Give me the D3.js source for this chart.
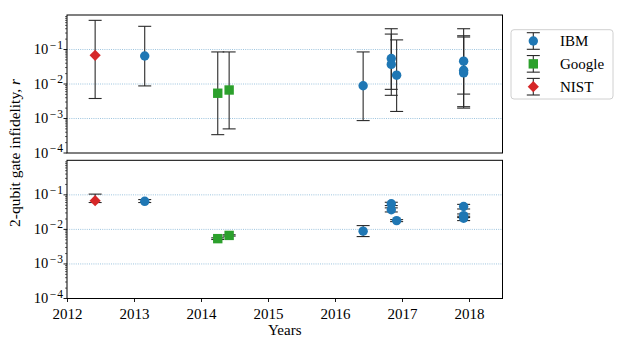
<!DOCTYPE html>
<html>
<head>
<meta charset="utf-8">
<script src="https://cdn.jsdelivr.net/npm/d3@7"></script>
<style>
  body { margin: 0; background: #fff; }
</style>
</head>
<body>
<div id="chart"></div>
<script>
const year_ticks = [2012, 2013, 2014, 2015, 2016, 2017, 2018];
const r_ticks = [1e-4, 1e-3, 1e-2, 1e-1];
const r_tick_exps = ['4', '3', '2', '1'];
const grid_values = [1e-3, 1e-2, 1e-1];

// IBM
const ibm_years = [2013.16, 2016.42, 2016.84, 2016.84, 2016.92, 2017.92, 2017.92, 2017.92];
const ibm_r = [0.065, 0.0089, 0.055, 0.037, 0.018, 0.046, 0.025, 0.021];
const ibm_upper = [0.47, 0.085, 0.40, 0.28, 0.19, 0.40, 0.25, 0.23];
const ibm_lower = [0.0088, 0.00087, 0.0070, 0.0047, 0.0016, 0.0051, 0.0022, 0.0020];
const ibm_err_up = [0.008, 0.004, 0.006, 0.005, 0.0012, 0.007, 0.003, 0.003];
const ibm_err_down = [0.005, 0.0027, 0.006, 0.005, 0.0012, 0.007, 0.003, 0.003];

// Google
const google_years = [2014.25, 2014.42];
const google_r = [0.0054, 0.0067];
const google_upper = [0.085, 0.085];
const google_lower = [0.00034, 0.0005];
const google_err_up = [0.0003, 0.0003];
const google_err_down = [0.0003, 0.0003];

// NIST
const nist_years = [2012.42];
const nist_r = [0.068];
const nist_upper = [0.70];
const nist_lower = [0.0038];
const nist_err_up = [0.037];
const nist_err_down = [0.008];

const series = [
    { name: 'IBM', color: '#1f77b4', shape: 'circle', years: ibm_years, r: ibm_r,
      upper: ibm_upper, lower: ibm_lower, err_up: ibm_err_up, err_down: ibm_err_down },
    { name: 'Google', color: '#2ca02c', shape: 'square', years: google_years, r: google_r,
      upper: google_upper, lower: google_lower, err_up: google_err_up, err_down: google_err_down },
    { name: 'NIST', color: '#d62728', shape: 'diamond', years: nist_years, r: nist_r,
      upper: nist_upper, lower: nist_lower, err_up: nist_err_up, err_down: nist_err_down }
];

const width = 623, height = 350;
const left = 67, right = 502.5;
const panels = [
    { top: 15, bottom: 153, mode: 'range' },
    { top: 160.3, bottom: 298.5, mode: 'stat' }
];
const cap_half = 6.5;
const bar_color = '#2a2a2a';
const serif = "'Liberation Serif', 'DejaVu Serif', serif";

const svg = d3.select('#chart')
    .append('svg')
    .attr('width', width)
    .attr('height', height)
    .style('font-family', serif);

const x = d3.scaleLinear().domain([2012, 2018.5]).range([left, right]);

function add_text(g) {
    return g.append('text')
        .style('font-family', serif)
        .attr('fill', '#000');
}

function marker_path(shape) {
    if (shape === 'circle') return d3.symbol(d3.symbolCircle, Math.PI * 4.7 * 4.7)();
    if (shape === 'square') return d3.symbol(d3.symbolSquare, 9.4 * 9.4)();
    const h = 5.6;
    return `M0,${-h}L${h},0L0,${h}L${-h},0Z`;
}

function draw_marker(g, shape, color, cx, cy) {
    g.append('path')
        .attr('d', marker_path(shape))
        .attr('transform', `translate(${cx},${cy})`)
        .attr('fill', color);
}

function draw_errorbar(g, cx, y_hi, y_lo) {
    g.append('line')
        .attr('x1', cx).attr('x2', cx)
        .attr('y1', y_hi).attr('y2', y_lo)
        .attr('stroke', bar_color).attr('stroke-width', 1.1);
    [y_hi, y_lo].forEach(yy => {
        g.append('line')
            .attr('x1', cx - cap_half).attr('x2', cx + cap_half)
            .attr('y1', yy).attr('y2', yy)
            .attr('stroke', bar_color).attr('stroke-width', 1.1);
    });
}

function draw_panel(panel, show_x_labels) {
    const y = d3.scaleLog().domain([1e-4, 1]).range([panel.bottom, panel.top]);
    const g = svg.append('g');

    // dotted grid
    g.selectAll('line.grid')
        .data(grid_values)
        .enter().append('line')
        .attr('x1', left).attr('x2', right)
        .attr('y1', d => y(d)).attr('y2', d => y(d))
        .attr('stroke', '#1f77b4')
        .attr('stroke-opacity', 0.55)
        .attr('stroke-width', 0.8)
        .attr('stroke-dasharray', '1,1.2');

    // error bars and markers
    series.forEach(s => {
        s.years.forEach((yr, i) => {
            let hi, lo;
            if (panel.mode === 'range') {
                hi = s.upper[i];
                lo = s.lower[i];
            } else {
                hi = s.r[i] + s.err_up[i];
                lo = s.r[i] - s.err_down[i];
            }
            draw_errorbar(g, x(yr), y(hi), y(lo));
        });
        s.years.forEach((yr, i) => {
            draw_marker(g, s.shape, s.color, x(yr), y(s.r[i]));
        });
    });

    // minor ticks on y axis
    const minor = [];
    for (let e = -4; e < 0; e++) {
        for (let k = 2; k <= 9; k++) minor.push(k * Math.pow(10, e));
    }
    g.selectAll('line.minor')
        .data(minor)
        .enter().append('line')
        .attr('x1', left - 2).attr('x2', left)
        .attr('y1', d => y(d)).attr('y2', d => y(d))
        .attr('stroke', '#000').attr('stroke-width', 0.6);

    // major ticks and labels
    const y_axis = g.append('g');
    r_ticks.forEach((t, i) => {
        y_axis.append('line')
            .attr('x1', left - 3.5).attr('x2', left)
            .attr('y1', y(t)).attr('y2', y(t))
            .attr('stroke', '#000').attr('stroke-width', 0.9);
        const label = add_text(y_axis)
            .attr('x', left - 3)
            .attr('y', y(t) + 4.5)
            .attr('text-anchor', 'end')
            .attr('font-size', '14.5px');
        label.append('tspan').text('10');
        label.append('tspan')
            .attr('dy', -5.5)
            .attr('dx', 1.5)
            .attr('font-size', '11.5px')
            .attr('letter-spacing', '1px')
            .text('\u2212' + r_tick_exps[i]);
    });

    if (show_x_labels) {
        const x_axis = d3.axisBottom(x)
            .tickValues(year_ticks)
            .tickFormat(d3.format('d'))
            .tickSizeInner(3.5)
            .tickSizeOuter(0);
        const ax = svg.append('g')
            .attr('transform', `translate(0,${panel.bottom})`)
            .call(x_axis)
            .attr('font-family', null)
            .attr('font-size', null);
        ax.select('.domain').remove();
        ax.selectAll('line').attr('stroke', '#000').attr('stroke-width', 0.9);
        ax.selectAll('text')
            .style('font-family', serif)
            .style('font-size', '15px')
            .attr('fill', '#000')
            .attr('dy', '0.9em');
    }

    // frame
    svg.append('rect')
        .attr('x', left).attr('y', panel.top)
        .attr('width', right - left)
        .attr('height', panel.bottom - panel.top)
        .attr('fill', 'none')
        .attr('stroke', '#000')
        .attr('stroke-width', 1);
}

draw_panel(panels[0], false);
draw_panel(panels[1], true);

// axis labels
add_text(svg)
    .attr('x', (left + right) / 2)
    .attr('y', 335)
    .attr('text-anchor', 'middle')
    .attr('font-size', '15px')
    .text('Years');

const y_label = add_text(svg)
    .attr('transform', 'translate(19.5,153) rotate(-90)')
    .attr('text-anchor', 'middle')
    .attr('font-size', '15.5px');
y_label.append('tspan').text('2-qubit gate infidelity, ');
y_label.append('tspan').attr('font-style', 'italic').text('r');

// legend
const legend = svg.append('g');
legend.append('rect')
    .attr('x', 511).attr('y', 29.7)
    .attr('width', 102).attr('height', 69.3)
    .attr('rx', 3)
    .attr('fill', '#fff')
    .attr('stroke', '#d0d0d0')
    .attr('stroke-width', 1);

const legend_y = d3.scalePoint()
    .domain(series.map(s => s.name))
    .range([41, 86.7]);

series.forEach(s => {
    const cy = legend_y(s.name);
    draw_errorbar(legend, 533.3, cy - 8.3, cy + 8.3);
    draw_marker(legend, s.shape, s.color, 533.3, cy);
    add_text(legend)
        .attr('x', 560)
        .attr('y', cy + 5)
        .attr('font-size', '15px')
        .text(s.name);
});
</script>
</body>
</html>
